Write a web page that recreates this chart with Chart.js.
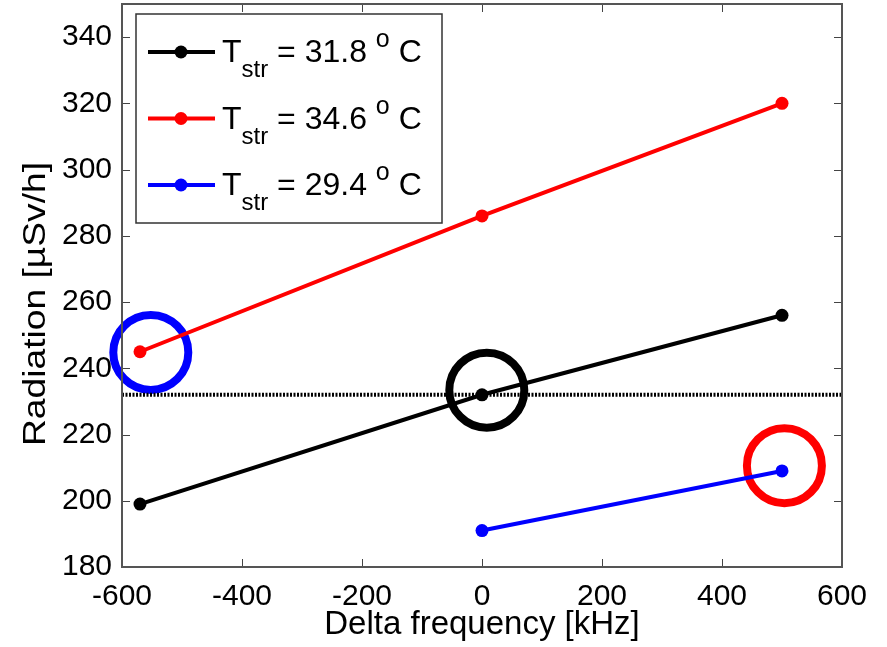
<!DOCTYPE html>
<html>
<head>
<meta charset="utf-8">
<script src="https://cdn.jsdelivr.net/npm/chart.js@4/dist/chart.umd.min.js"></script>
<style>
    html, body { margin: 0; padding: 0; background: #fff; }
    #wrap { width: 887px; height: 647px; }
</style>
</head>
<body>
<div id="wrap"><canvas id="radChart" width="887" height="647"></canvas></div>
<script>
// Data
const freqBlack = [-570, 0, 500];
const radBlack = [199, 232, 256];
const freqRed = [-570, 0, 500];
const radRed = [245, 286, 320];
const freqBlue = [0, 500];
const radBlue = [191, 209];
const seriesTemps = ['31.8', '34.6', '29.4'];
const seriesColors = ['#000000', '#ff0000', '#0000ff'];

// horizontal reference level and the highlight circles
const refLevel = 232;
const circleX = [-552, 8, 504];
const circleY = [244.8, 233.4, 210.6];
const circleColors = ['#0000ff', '#000000', '#ff0000'];

const xTicks = [-600, -400, -200, 0, 200, 400, 600];
const yTicks = [180, 200, 220, 240, 260, 280, 300, 320, 340];

const FONT = "'Liberation Sans', Arial, Helvetica, sans-serif";
const Y_TITLE = 'Radiation [µSv/h]';

const toPoints = (xs, ys) => xs.map((x, i) => ({ x: x, y: ys[i] }));

const lineSet = (xs, ys, color) => ({
    data: toPoints(xs, ys),
    borderColor: color,
    backgroundColor: color,
    borderWidth: 4,
    pointRadius: 6.5,
    pointBorderWidth: 0,
    showLine: true,
    tension: 0
});

// box + inward tick marks, like the MATLAB axes
const axesBox = {
    id: 'axesBox',
    afterDatasetsDraw(chart) {
        const { ctx, chartArea: a, scales } = chart;
        ctx.save();
        ctx.strokeStyle = '#444';
        ctx.lineWidth = 1;
        xTicks.forEach(v => {
            const px = Math.round(scales.x.getPixelForValue(v)) + 0.5;
            ctx.beginPath();
            ctx.moveTo(px, a.bottom); ctx.lineTo(px, a.bottom - 8);
            ctx.moveTo(px, a.top); ctx.lineTo(px, a.top + 8);
            ctx.stroke();
        });
        yTicks.forEach(v => {
            const py = Math.round(scales.y.getPixelForValue(v)) + 0.5;
            ctx.beginPath();
            ctx.moveTo(a.left, py); ctx.lineTo(a.left + 8, py);
            ctx.moveTo(a.right, py); ctx.lineTo(a.right - 8, py);
            ctx.stroke();
        });
        ctx.lineWidth = 2;
        ctx.strokeStyle = '#555';
        ctx.strokeRect(a.left, a.top, a.right - a.left, a.bottom - a.top);
        ctx.restore();
    },
    afterDraw(chart) {
        const { ctx, chartArea: a } = chart;

        // y axis title, a little wider than the plain font like the original
        ctx.save();
        ctx.translate(36, 304);
        ctx.rotate(-Math.PI / 2);
        ctx.scale(1.2, 1);
        ctx.font = '31px ' + FONT;
        ctx.fillStyle = '#000';
        ctx.textAlign = 'center';
        ctx.textBaseline = 'middle';
        ctx.fillText(Y_TITLE, 0, 0);
        ctx.restore();

        // legend with subscript / superscript text
        const bx = a.left + 14, by = a.top + 10, bw = 306, bh = 209;
        ctx.save();
        ctx.fillStyle = '#fff';
        ctx.fillRect(bx, by, bw, bh);
        ctx.strokeStyle = '#333';
        ctx.lineWidth = 1.5;
        ctx.strokeRect(bx, by, bw, bh);
        seriesTemps.forEach((t, i) => {
            const cy = by + 38 + i * 66.5;
            ctx.strokeStyle = seriesColors[i];
            ctx.fillStyle = seriesColors[i];
            ctx.lineWidth = 4;
            ctx.beginPath();
            ctx.moveTo(bx + 12, cy); ctx.lineTo(bx + 79, cy);
            ctx.stroke();
            ctx.beginPath();
            ctx.arc(bx + 45, cy, 6.5, 0, Math.PI * 2);
            ctx.fill();

            ctx.fillStyle = '#000';
            ctx.textBaseline = 'alphabetic';
            ctx.textAlign = 'left';
            let x = bx + 86;
            ctx.font = '32px ' + FONT;
            ctx.fillText('T', x, cy + 10);
            x += ctx.measureText('T').width;
            ctx.font = '24px ' + FONT;
            ctx.fillText('str', x, cy + 25);
            x += ctx.measureText('str').width;
            ctx.font = '32px ' + FONT;
            const mid = ' = ' + t + ' ';
            ctx.fillText(mid, x, cy + 10);
            x += ctx.measureText(mid).width;
            ctx.font = '25px ' + FONT;
            ctx.fillText('o', x, cy - 5);
            x += ctx.measureText('o').width;
            ctx.font = '32px ' + FONT;
            ctx.fillText(' C', x, cy + 10);
        });
        ctx.restore();
    }
};

const noPad = s => { s.paddingTop = 0; s.paddingBottom = 0; s.paddingLeft = 0; s.paddingRight = 0; };

new Chart(document.getElementById('radChart').getContext('2d'), {
    type: 'scatter',
    data: {
        datasets: [
            lineSet(freqBlack, radBlack, seriesColors[0]),
            lineSet(freqRed, radRed, seriesColors[1]),
            lineSet(freqBlue, radBlue, seriesColors[2]),
            {
                data: toPoints(xTicks.slice(0, 1).concat(xTicks.slice(-1)), [refLevel, refLevel]),
                borderColor: '#000',
                borderWidth: 4,
                borderDash: [2, 1.5],
                pointRadius: 0,
                showLine: true
            },
            {
                data: toPoints(circleX, circleY),
                borderColor: circleColors,
                backgroundColor: 'rgba(0,0,0,0)',
                pointRadius: 37.5,
                pointBorderWidth: 8,
                showLine: false,
                clip: false
            }
        ]
    },
    options: {
        responsive: false,
        animation: false,
        events: [],
        layout: { padding: 0, autoPadding: false },
        plugins: {
            legend: { display: false },
            tooltip: { enabled: false }
        },
        scales: {
            x: {
                type: 'linear',
                min: -600,
                max: 600,
                afterFit: s => { s.height = 80; noPad(s); },
                afterBuildTicks: s => { s.ticks = xTicks.map(v => ({ value: v })); },
                grid: { display: false, drawTicks: false },
                border: { display: false },
                ticks: { color: '#000', padding: 12, font: { family: FONT, size: 30 } },
                title: {
                    display: true,
                    text: 'Delta frequency [kHz]',
                    color: '#000',
                    padding: { top: 0, bottom: 2 },
                    font: { family: FONT, size: 33 }
                }
            },
            y: {
                type: 'linear',
                min: 180,
                max: 350,
                afterFit: s => { s.width = 122; noPad(s); },
                afterBuildTicks: s => { s.ticks = yTicks.map(v => ({ value: v })); },
                grid: { display: false, drawTicks: false },
                border: { display: false },
                ticks: { color: '#000', padding: 10, font: { family: FONT, size: 30 } },
                title: { display: false }
            },
            x2: {
                type: 'linear',
                position: 'top',
                min: -600,
                max: 600,
                afterFit: s => { s.height = 4; noPad(s); },
                grid: { display: false, drawTicks: false },
                border: { display: false },
                ticks: { display: false }
            },
            y2: {
                type: 'linear',
                position: 'right',
                min: 180,
                max: 350,
                afterFit: s => { s.width = 45; noPad(s); },
                grid: { display: false, drawTicks: false },
                border: { display: false },
                ticks: { display: false }
            }
        }
    },
    plugins: [axesBox]
});
</script>
</body>
</html>
